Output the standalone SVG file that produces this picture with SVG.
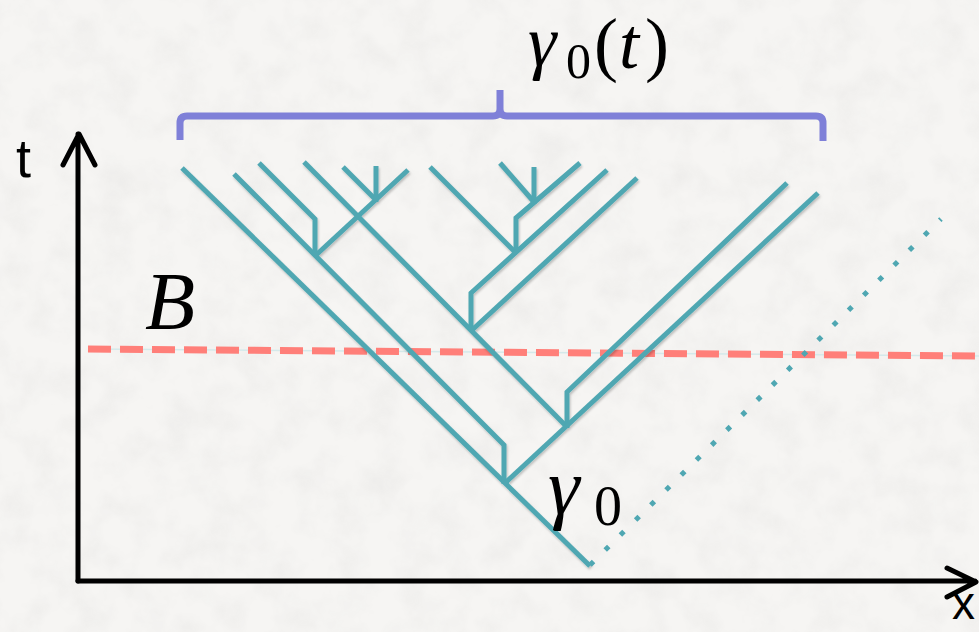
<svg xmlns="http://www.w3.org/2000/svg" width="979" height="632" viewBox="0 0 979 632">
<defs>
<filter id="paper" x="0" y="0" width="100%" height="100%">
<feTurbulence type="fractalNoise" baseFrequency="0.03" numOctaves="4" seed="3" result="n"/>
<feColorMatrix in="n" type="matrix" values="0 0 0 0 0.2  0 0 0 0 0.2  0 0 0 0 0.2  0 0 0 -0.9 0.55" result="a"/>
<feComposite in="a" in2="SourceGraphic" operator="in"/>
</filter>
<filter id="sh" x="-5%" y="-5%" width="110%" height="110%">
<feDropShadow dx="1" dy="2" stdDeviation="1.2" flood-color="#000" flood-opacity="0.22"/>
</filter>
<style>
.tl{fill:none;stroke:#4fa7b2;stroke-width:5;stroke-linecap:butt;stroke-linejoin:miter}
.ax{fill:none;stroke:#000;stroke-width:5;stroke-linecap:round;stroke-linejoin:round}
</style>
</defs>
<rect width="979" height="632" fill="#f6f5f3"/>
<rect width="979" height="632" fill="#f6f5f3" filter="url(#paper)" opacity="0.12"/>

<g id="axes">
<path class="ax" d="M78,581 V134 M63,165 L79,134 L95,165"/>
<path class="ax" d="M78,581 H975 M947,568 L976,582 L947,597"/>
<text font-family="Liberation Sans, Arial, sans-serif" x="16" y="177" font-size="54" fill="#000">t</text>
<text font-family="Liberation Sans, Arial, sans-serif" x="952" y="619" font-size="46" fill="#000">x</text>
</g>

<g id="threshold">
<line x1="88" y1="349" x2="979" y2="356" stroke="#d5e9ea" stroke-width="1.5"/>
<line x1="88" y1="349" x2="979" y2="356" stroke="#ff7f79" stroke-width="7" stroke-dasharray="23 9"/>
<text font-family="Liberation Serif, DejaVu Serif, serif" x="145" y="329" font-size="82" font-style="italic" fill="#000">B</text>
</g>

<g id="tree" filter="url(#sh)">
<path class="tl" d="M182,168 L590,566"/>
<path class="tl" d="M234,174 L504,445 L504,484"/>
<path class="tl" d="M259,163 L315,219 L315,256"/>
<path class="tl" d="M315,256 L408,170"/>
<path class="tl" d="M343,167 L376,200"/>
<path class="tl" d="M376,166 L376,202"/>
<path class="tl" d="M304,162 L567,427"/>
<path class="tl" d="M430,167 L516,253"/>
<path class="tl" d="M500,163 L534,202"/>
<path class="tl" d="M534,167 L534,204"/>
<path class="tl" d="M580,163 L516,218 L516,253"/>
<path class="tl" d="M607,170 L471,293 L471,331"/>
<path class="tl" d="M637,178 L471,331"/>
<path class="tl" d="M787,183 L567,392 L567,428"/>
<path class="tl" d="M818,193 L504,484"/>
</g>

<g id="shifted-path">
<line x1="590" y1="565" x2="941" y2="219" stroke="#4fa7b2" stroke-width="5" stroke-dasharray="5 16.35"/>
<text font-family="Liberation Serif, DejaVu Serif, serif" fill="#000"><tspan x="548" y="514" font-size="80" font-style="italic">γ</tspan><tspan x="594" y="525" font-size="56">0</tspan></text>
</g>

<g id="bracket">
<path d="M180,140 V123 Q180,116 187,116 H493 Q500,116 500,109 V90 M500,109 Q500,116 507,116 H816 Q823,116 823,123 V141" fill="none" stroke="#7f80d8" stroke-width="7"/>
<text font-family="Liberation Serif, DejaVu Serif, serif" font-size="72" fill="#000"><tspan x="528" y="66" font-style="italic">γ</tspan><tspan x="566" y="78" font-size="50">0</tspan><tspan x="594" y="68">(</tspan><tspan x="619" y="68" font-style="italic">t</tspan><tspan x="645" y="68">)</tspan></text>
</g>
</svg>
